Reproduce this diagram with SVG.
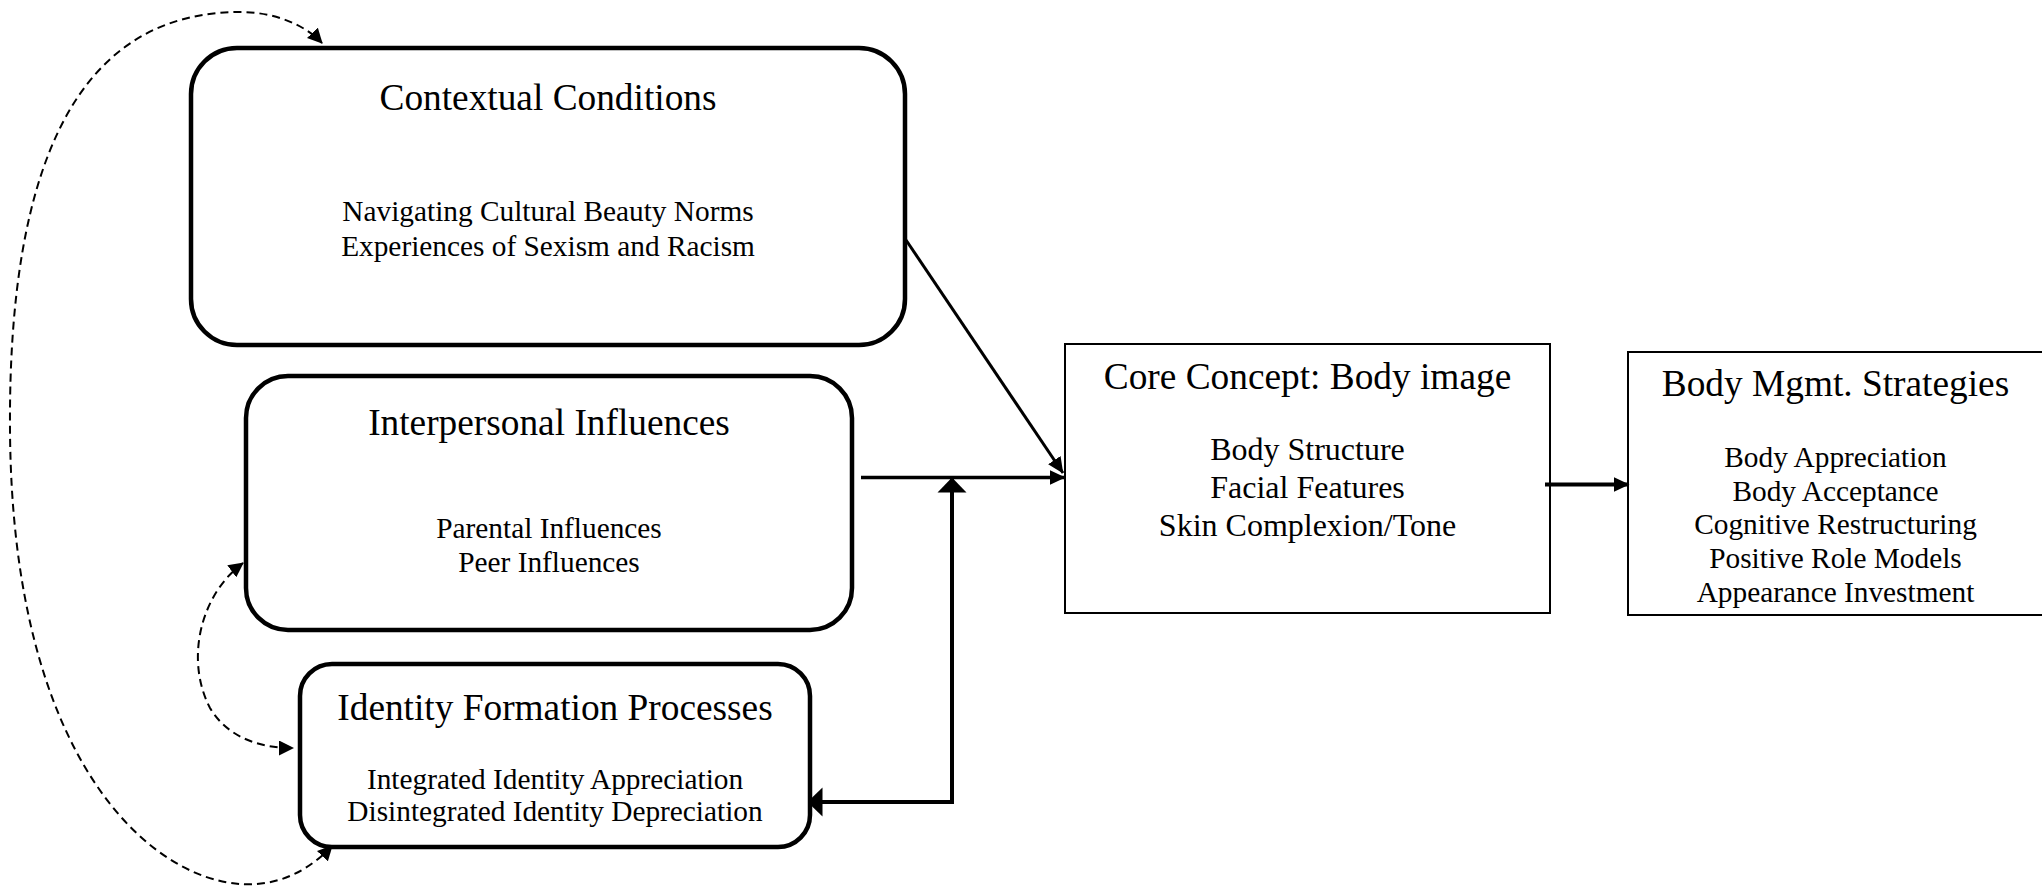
<svg xmlns="http://www.w3.org/2000/svg" width="2042" height="889" viewBox="0 0 2042 889">
<defs>
<style>
.rbox{fill:#fff;stroke:#000;stroke-width:4.5}
.sbox{fill:#fff;stroke:#000;stroke-width:2}
.t{font-family:"Liberation Serif","Times New Roman",serif;fill:#000;text-anchor:middle}
.h{font-size:37.33px}
.i{font-size:29.33px}
.ic{font-size:32px}
.ln{fill:none;stroke:#000}
.dash{fill:none;stroke:#000;stroke-width:2;stroke-dasharray:8 5}
</style>
<marker id="a" markerUnits="userSpaceOnUse" viewBox="0 0 16 16" markerWidth="16" markerHeight="16" refX="15.5" refY="8" orient="auto-start-reverse">
<path d="M0,0.5 L16,8 L0,15.5 z" fill="#000"/>
</marker>
<marker id="b" markerUnits="userSpaceOnUse" viewBox="0 0 15 30" markerWidth="15" markerHeight="30" refX="14.5" refY="15" orient="auto-start-reverse">
<path d="M0,0.5 L15,15 L0,29.5 z" fill="#000"/>
</marker>
<marker id="d" markerUnits="userSpaceOnUse" viewBox="0 0 15 15" markerWidth="15" markerHeight="15" refX="14" refY="7.5" orient="auto-start-reverse">
<path d="M0,0 L15,7.5 L0,15 z" fill="#000"/>
</marker>
</defs>
<rect width="2042" height="889" fill="#fff"/>

<g id="contextual">
<rect class="rbox" x="191" y="48" width="714" height="297" rx="46" ry="46"/>
<text class="t h" x="548" y="110">Contextual Conditions</text>
<text class="t i" x="548" y="221">Navigating Cultural Beauty Norms</text>
<text class="t i" x="548" y="256">Experiences of Sexism and Racism</text>
</g>

<g id="interpersonal">
<rect class="rbox" x="246" y="376" width="606" height="254" rx="42" ry="42"/>
<text class="t h" x="549" y="435">Interpersonal Influences</text>
<text class="t i" x="549" y="538">Parental Influences</text>
<text class="t i" x="549" y="572">Peer Influences</text>
</g>

<g id="identity">
<rect class="rbox" x="300" y="664" width="510" height="183" rx="32" ry="32"/>
<text class="t h" x="555" y="720">Identity Formation Processes</text>
<text class="t i" x="555" y="789">Integrated Identity Appreciation</text>
<text class="t i" x="555" y="821">Disintegrated Identity Depreciation</text>
</g>

<g id="core">
<rect class="sbox" x="1065" y="344" width="485" height="269"/>
<text class="t h" x="1307.5" y="389">Core Concept: Body image</text>
<text class="t ic" x="1307.5" y="460">Body Structure</text>
<text class="t ic" x="1307.5" y="498">Facial Features</text>
<text class="t ic" x="1307.5" y="536">Skin Complexion/Tone</text>
</g>

<g id="strategies">
<rect class="sbox" x="1628" y="352" width="415" height="263"/>
<text class="t h" x="1835.5" y="396">Body Mgmt. Strategies</text>
<text class="t i" x="1835.5" y="467">Body Appreciation</text>
<text class="t i" x="1835.5" y="501">Body Acceptance</text>
<text class="t i" x="1835.5" y="534">Cognitive Restructuring</text>
<text class="t i" x="1835.5" y="568">Positive Role Models</text>
<text class="t i" x="1835.5" y="602">Appearance Investment</text>
</g>

<g id="connectors">
<path class="ln" stroke-width="3" d="M906 240 L1063 473" marker-end="url(#a)"/>
<path class="ln" stroke-width="3.5" d="M861 477.5 L1065 477.5" marker-end="url(#a)"/>
<path class="ln" stroke-width="4" d="M952 478 L952 802 L808 802" marker-start="url(#b)" marker-end="url(#b)"/>
<path class="ln" stroke-width="4" d="M1545 484.5 L1629 484.5" marker-end="url(#a)"/>
<path class="dash" d="M332 846 C300 880 265 886 240 884 C150 878 12 760 10 430 C8 160 80 12 240 12 C275 12 305 25 322 43" marker-start="url(#d)" marker-end="url(#d)"/>
<path class="dash" d="M243 563 C200 595 185 660 210 708 C228 738 260 748 293 748" marker-start="url(#d)" marker-end="url(#d)"/>
</g>
</svg>
